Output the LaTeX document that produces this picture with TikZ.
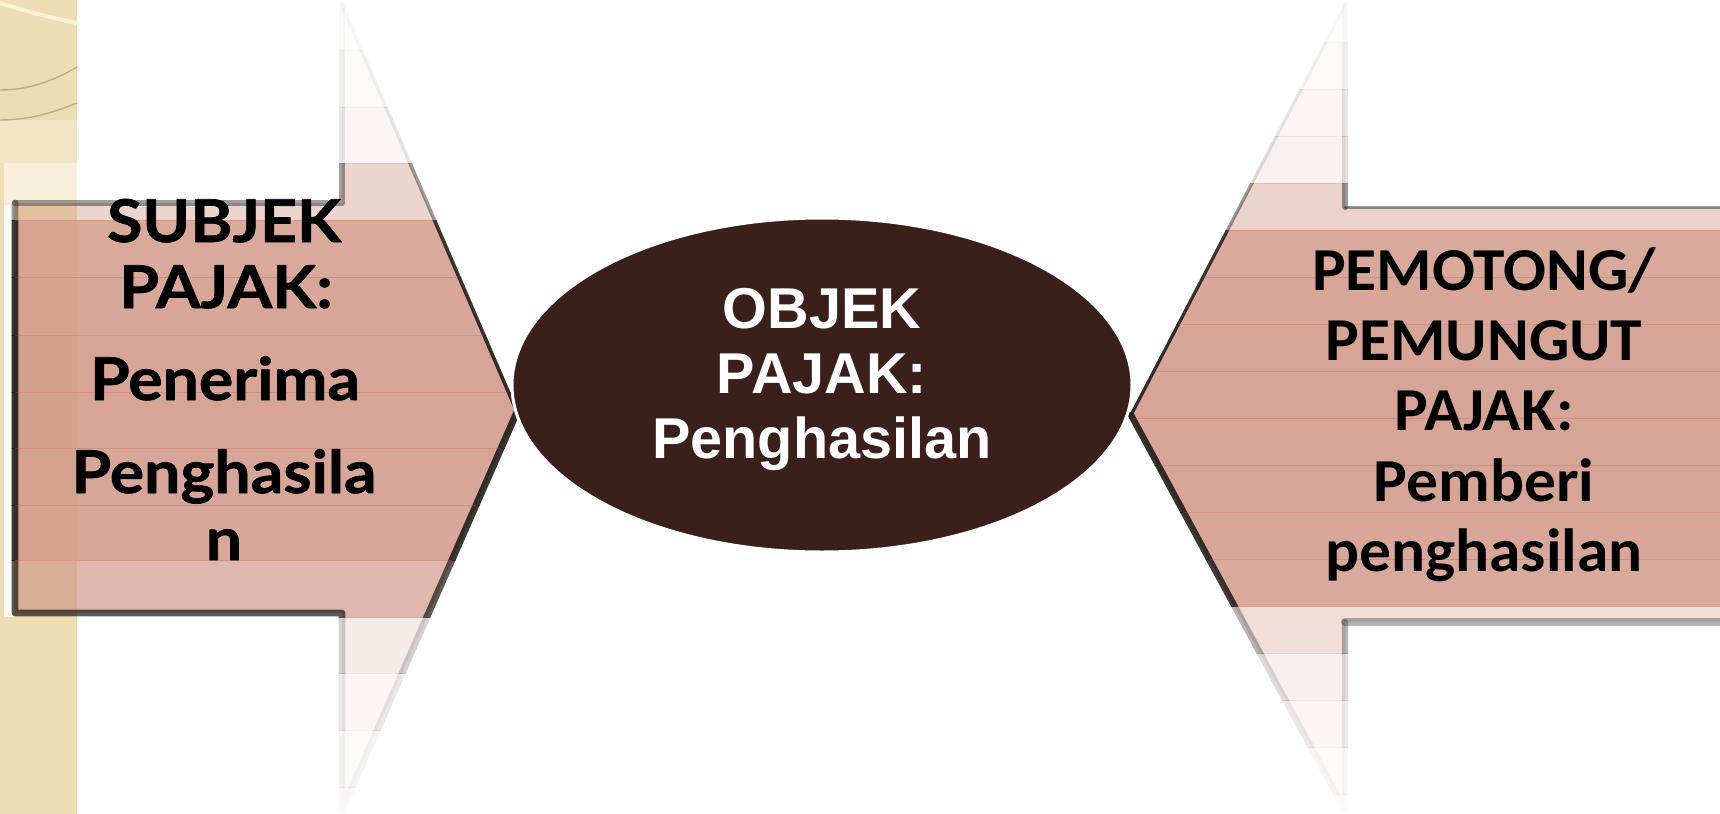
\documentclass[tikz,border=0pt]{standalone}
\usepackage{fontspec}
\usetikzlibrary{shapes.geometric}
\newfontfamily\leftfont{Lato}[FakeStretch=1.09, FakeBold=1.2]
\newfontfamily\rightfont{Carlito}[FakeStretch=1.04]
\newfontfamily\midfont{Liberation Sans}

\definecolor{salmon}{RGB}{211,155,140}
\definecolor{edgedark}{RGB}{30,27,24}
\definecolor{seamcol}{RGB}{200,120,105}
\definecolor{ovalbrown}{RGB}{59,31,26}
\definecolor{stripbeige}{RGB}{238,221,178}
\definecolor{striplight}{RGB}{242,229,197}
\definecolor{striplighter}{RGB}{247,239,220}
\definecolor{stripwhite}{RGB}{252,250,244}
\definecolor{stripcream}{RGB}{250,241,214}
\definecolor{striparc}{RGB}{192,172,132}

\tikzset{
  lefttxt/.style={font=\leftfont\bfseries\fontsize{29.5pt}{35pt}\selectfont,
    inner sep=0pt, text=black, anchor=base},
  righttxt/.style={font=\rightfont\bfseries\fontsize{30.5pt}{35pt}\selectfont,
    inner sep=0pt, text=black, anchor=base},
  midtxt/.style={font=\midfont\bfseries\fontsize{28.8pt}{33pt}\selectfont,
    inner sep=0pt, text=white, anchor=base},
  leftshape/.style={insert path={(la) -- (lb) -- (lc) -- (ld) -- (le) -- (lf) -- (lg) -- cycle}},
  rightshape/.style={insert path={(ra) -- (rb) -- (rc) -- (rd) -- (re) -- (rf) -- (rg) -- cycle}},
  seam/.style={seamcol, line width=0.6pt, line cap=butt},
}

\begin{document}
\begin{tikzpicture}[x=0.5pt, y=-0.5pt, line join=round, line cap=round]
\useasboundingbox (0,0) rectangle (1720,814);
\clip (0,0) rectangle (1720,814);

% textured side strip
\fill[stripbeige] (0,0) rectangle (77,814);
\fill[striplight] (0,120) rectangle (77,163);
\fill[striplighter] (4,163) rectangle (77,205);
\fill[stripwhite] (4,205) rectangle (13,617);
\draw[stripcream, line width=2pt] (0,3) .. controls (30,12) and (55,19) .. (77,23);
\draw[striparc, line width=0.7pt] (0,90) .. controls (30,90) and (55,80) .. (77,67);
\draw[striparc, line width=0.7pt] (0,120) .. controls (30,120) and (55,112) .. (77,103);

% arrow corners
\coordinate (la) at (15,203);
\coordinate (lb) at (342,203);
\coordinate (lc) at (342,5);
\coordinate (ld) at (517,412);
\coordinate (le) at (342,810);
\coordinate (lf) at (342,613);
\coordinate (lg) at (15,613);

\coordinate (ra) at (1740,207);
\coordinate (rb) at (1345,207);
\coordinate (rc) at (1345,5);
\coordinate (rd) at (1131,415);
\coordinate (re) at (1345,810);
\coordinate (rf) at (1345,622);
\coordinate (rg) at (1740,622);

% left arrow, drawn in horizontal bands that fade towards top and bottom
\foreach \ya/\yb/\al in {0/50/0.03, 50/107/0.06, 107/163/0.1, 163/220/0.42,
    220/277/0.86, 277/335/0.88, 335/392/0.9, 392/448/0.9, 448/505/0.89,
    505/560/0.87, 560/617/0.72, 617/673/0.2, 673/730/0.1, 730/787/0.05,
    787/814/0.03}{
  \begin{scope}
    \clip (0,\ya) rectangle (1720,\yb);
    \fill[salmon, fill opacity=\al] [leftshape];
    \begin{scope}[draw=edgedark, draw opacity=\al]
      \draw[line width=2.8pt] (la) -- (lb) -- (lc);
      \draw[line width=1.8pt] (lc) -- (ld);
      \draw[line width=3.4pt] (ld) -- (le) -- (lf) -- (lg) -- (la);
    \end{scope}
    \begin{scope}
      \clip [leftshape];
      \draw[seam, draw opacity=0.3*\al] (0,\ya) -- (1720,\ya);
    \end{scope}
  \end{scope}
}

% right arrow, same banded fading
\foreach \ya/\yb/\al in {0/42/0.03, 42/89/0.06, 89/136/0.1, 136/183/0.14,
    183/230/0.45, 230/277/0.86, 277/324/0.88, 324/371/0.9, 371/418/0.9,
    418/465/0.9, 465/512/0.9, 512/559/0.88, 559/606/0.86, 606/653/0.33,
    653/700/0.15, 700/747/0.09, 747/794/0.04, 794/814/0.02}{
  \begin{scope}
    \clip (0,\ya) rectangle (1720,\yb);
    \fill[salmon, fill opacity=\al] [rightshape];
    \begin{scope}[draw=edgedark, draw opacity=\al]
      \draw[line width=1.5pt] (ra) -- (rb);
      \draw[line width=3pt] (rb) -- (rc);
      \draw[line width=1.6pt] (rc) -- (rd);
      \draw[line width=3.2pt] (rd) -- (re) -- (rf);
      \draw[line width=4pt] (rf) -- (rg);
    \end{scope}
    \begin{scope}
      \clip [rightshape];
      \draw[seam, draw opacity=0.3*\al] (0,\ya) -- (1720,\ya);
    \end{scope}
  \end{scope}
}

% central oval
\node[ellipse, draw=white, line width=1.5pt, fill=ovalbrown, inner sep=0pt,
      minimum width=310pt, minimum height=167pt] (obj) at (822,385) {};

% left label
\node[lefttxt] (subj1) at (224,242) {SUBJEK};
\node[lefttxt] (subj2) at (226,308) {PAJAK:};
\node[lefttxt] (subj3) at (225,400) {Penerima};
\node[lefttxt] (subj4) at (224,493) {Penghasila};
\node[lefttxt] (subj5) at (224,560) {n};

% central label
\node[midtxt] (obj1) at (822,328) {OBJEK};
\node[midtxt] (obj2) at (822,393) {PAJAK:};
\node[midtxt] (obj3) at (822,458) {Penghasilan};

% right label
\node[righttxt] (pem1) at (1484,290) {PEMOTONG/};
\node[righttxt] (pem2) at (1484,360) {PEMUNGUT};
\node[righttxt] (pem3) at (1484,430) {PAJAK:};
\node[righttxt] (pem4) at (1484,501) {Pemberi};
\node[righttxt] (pem5) at (1484,571) {penghasilan};
\end{tikzpicture}
\end{document}
